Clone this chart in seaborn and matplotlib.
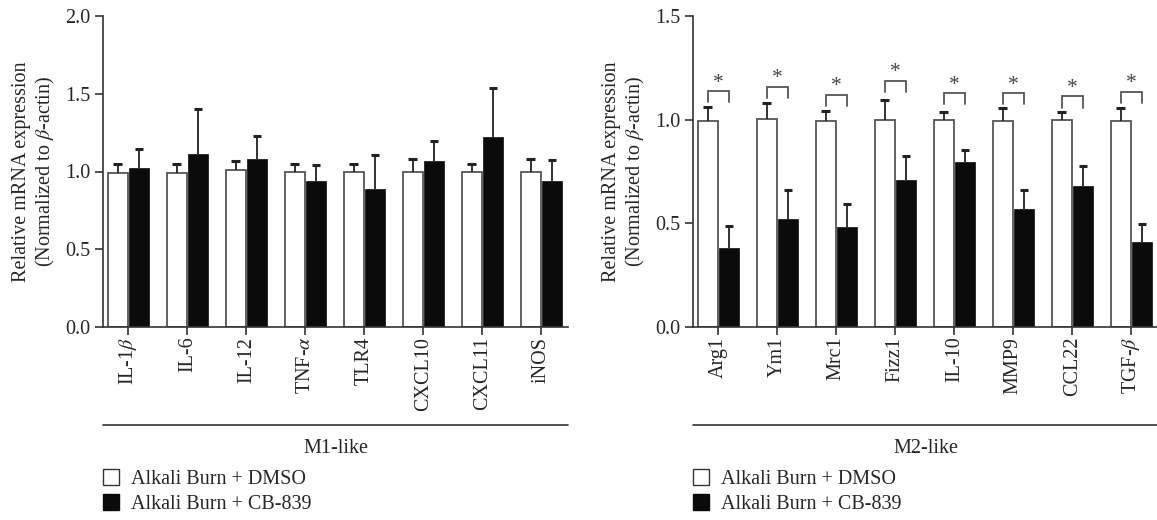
import numpy as np
import pandas as pd
import matplotlib
matplotlib.use("Agg")
import matplotlib.pyplot as plt
import seaborn as sns
from matplotlib.patches import Patch
from matplotlib.ticker import FormatStrFormatter, MultipleLocator

# ---------------- data ----------------
m1_genes = ['IL-1$\\beta$', 'IL-6', 'IL-12', 'TNF-$\\alpha$', 'TLR4', 'CXCL10', 'CXCL11', 'iNOS']
m1_dmso = [0.99, 0.99, 1.01, 1.00, 1.00, 1.00, 1.00, 1.00]
m1_dmso_err = [0.06, 0.06, 0.06, 0.05, 0.05, 0.08, 0.05, 0.08]
m1_cb = [1.02, 1.11, 1.08, 0.94, 0.89, 1.07, 1.225, 0.94]
m1_cb_err = [0.125, 0.29, 0.15, 0.105, 0.215, 0.125, 0.31, 0.135]

m2_genes = ['Arg1', 'Ym1', 'Mrc1', 'Fizz1', 'IL-10', 'MMP9', 'CCL22', 'TGF-$\\beta$']
m2_dmso = [0.995, 1.005, 0.995, 1.00, 1.00, 0.995, 1.00, 0.995]
m2_dmso_err = [0.065, 0.075, 0.048, 0.097, 0.037, 0.06, 0.037, 0.06]
m2_cb = [0.383, 0.523, 0.48, 0.711, 0.798, 0.567, 0.678, 0.412]
m2_cb_err = [0.103, 0.137, 0.114, 0.115, 0.055, 0.093, 0.099, 0.084]
m2_sig_y = [1.137, 1.159, 1.121, 1.188, 1.128, 1.128, 1.112, 1.135]

groups = ['Alkali Burn + DMSO', 'Alkali Burn + CB-839']
group_titles = ['M1-like', 'M2-like']
ylims = [2.0, 1.5]

# ---------------- style ----------------
sns.set_style("ticks")
plt.rcParams['font.family'] = ['Liberation Serif', 'DejaVu Serif']
plt.rcParams['mathtext.fontset'] = 'stix'
FS = 14.5
SPINE = '#333333'
EDGE = '#555555'
BLACK = '#0b0b0b'

fig = plt.figure(figsize=(11.57, 5.2), dpi=100)
W, H = 1157.0, 520.0
ax_bottom = 1 - 327 / H
ax_height = (327 - 16) / H
ax_w = 465 / W
axes = [fig.add_axes([103 / W, ax_bottom, ax_w, ax_height]),
        fig.add_axes([693 / W, ax_bottom, ax_w, ax_height])]

panels = [
    (m1_genes, m1_dmso, m1_dmso_err, m1_cb, m1_cb_err, None),
    (m2_genes, m2_dmso, m2_dmso_err, m2_cb, m2_cb_err, m2_sig_y),
]

for ax, (genes, dm, dm_err, cb, cb_err, sig), title, ymax in zip(axes, panels, group_titles, ylims):
    df = pd.DataFrame({
        'gene': list(genes) * 2,
        'group': [groups[0]] * len(genes) + [groups[1]] * len(genes),
        'value': list(dm) + list(cb),
    })
    sns.barplot(data=df, x='gene', y='value', hue='group', order=genes, hue_order=groups,
                palette={groups[0]: 'white', groups[1]: BLACK}, errorbar=None,
                width=0.72, gap=0.08, legend=False, ax=ax, saturation=1)
    errs = [dm_err, cb_err]
    for ci, cont in enumerate(ax.containers):
        for bar, e in zip(cont, errs[ci]):
            if ci == 0:
                bar.set_edgecolor(EDGE)
                bar.set_linewidth(1.3)
            else:
                bar.set_edgecolor(BLACK)
                bar.set_linewidth(0.5)
            xc = bar.get_x() + bar.get_width() / 2
            top = bar.get_height()
            ax.vlines(xc, top, top + e, color='#222222', lw=1.3, zorder=1)
            ax.hlines(top + e, xc - 0.075, xc + 0.075, color='#222222', lw=2.2, zorder=1)
    if sig is not None:
        c0, c1 = ax.containers
        for b0, b1, h in zip(c0, c1, sig):
            x0 = b0.get_x() + b0.get_width() / 2
            x1 = b1.get_x() + b1.get_width() / 2
            ax.plot([x0, x0, x1, x1], [h - 0.054, h, h, h - 0.054], color=EDGE, lw=1.3,
                    solid_joinstyle='miter')
            ax.text((x0 + x1) / 2, h - 0.008, '*', ha='center', va='bottom',
                    fontsize=FS + 1, color='#444444')

    ax.set_xlim(-0.43, 7.45)
    ax.set_ylim(0, ymax)
    ax.yaxis.set_major_locator(MultipleLocator(0.5))
    ax.yaxis.set_major_formatter(FormatStrFormatter('%.1f'))
    ax.set_xlabel('')
    ax.set_ylabel('Relative mRNA expression\n(Normalized to $\\beta$-actin)', fontsize=FS,
                  linespacing=1.15, labelpad=6)
    ax.tick_params(axis='y', labelsize=FS, length=6, width=1.2, color=SPINE, pad=3)
    ax.tick_params(axis='x', labelsize=FS, length=6, width=1.2, color=SPINE, pad=1,
                   labelrotation=90)
    for lab in ax.get_xticklabels():
        lab.set_va('top')
    sns.despine(ax=ax)
    for s in ['left', 'bottom']:
        ax.spines[s].set_color(SPINE)
        ax.spines[s].set_linewidth(1.2)

    # group line and title
    ax.plot([0, 1], [-0.315, -0.315], transform=ax.transAxes, color=SPINE, lw=1.2,
            clip_on=False)
    ax.text(0.5, -0.39, title, transform=ax.transAxes, ha='center', va='center',
            fontsize=FS)

    handles = [Patch(facecolor='white', edgecolor='#333333', lw=1.0),
               Patch(facecolor=BLACK, edgecolor=BLACK, lw=1.0)]
    ax.legend(handles, groups, loc='upper left', bbox_to_anchor=(0.0, -0.458),
              frameon=False, fontsize=FS, borderpad=0, borderaxespad=0,
              handlelength=0.8, handleheight=0.8, handletextpad=0.6, labelspacing=0.25)

fig.savefig('out.png', dpi=100)
